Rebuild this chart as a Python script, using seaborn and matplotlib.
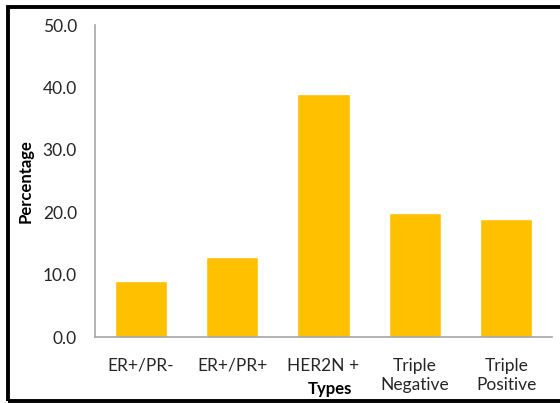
import matplotlib
matplotlib.use("Agg")
import matplotlib.pyplot as plt
from matplotlib.patches import Rectangle
import seaborn as sns
import pandas as pd

categories = ["ER+/PR-", "ER+/PR+", "HER2N +", "Triple\nNegative", "Triple\nPositive"]
percentages = [8.9, 12.8, 38.9, 19.8, 18.9]
y_ticks = [0, 10, 20, 30, 40, 50]
y_tick_labels = ["0.0", "10.0", "20.0", "30.0", "40.0", "50.0"]

sns.set_theme(style="white")
plt.rcParams["font.family"] = ["Lato", "DejaVu Sans"]

df = pd.DataFrame({"Types": categories, "Percentage": percentages})

fig = plt.figure(figsize=(5.6, 4.03), dpi=100)
ax = fig.add_axes([95 / 560, 1 - 337 / 403, 457 / 560, 312 / 403])

sns.barplot(data=df, x="Types", y="Percentage", color="#FFC000",
            saturation=1, width=0.57, ax=ax)

ax.set_ylim(0, 50)
ax.set_yticks(y_ticks)
ax.set_yticklabels(y_tick_labels)
ax.tick_params(axis="both", labelsize=12.5, colors="#262626", length=0)
ax.tick_params(axis="y", pad=13)
ax.tick_params(axis="x", pad=15)
for lbl in ax.get_xticklabels():
    lbl.set_linespacing(1.25)

for side in ["top", "right"]:
    ax.spines[side].set_visible(False)
for side in ["left", "bottom"]:
    ax.spines[side].set_color("#A6A6A6")
    ax.spines[side].set_linewidth(1.2)

ax.set_ylabel("Percentage", fontsize=12, fontweight="bold", color="black")
ax.yaxis.set_label_coords(-(95 - 34) / 457, 0.5)
ax.set_xlabel("Types", fontsize=12, fontweight="bold", color="black")
ax.xaxis.set_label_coords((330 - 95) / 457, -(389 - 337) / 312)
ax.xaxis.label.set_verticalalignment("center")

# Frame around the whole chart area
fig.patches.append(Rectangle((7.5 / 560, 2.5 / 403), 600 / 560, (398.5 - 2.5 - 2) / 403,
                             transform=fig.transFigure, fill=False,
                             edgecolor="black", linewidth=2.8, clip_on=False))

fig.savefig("out.png", dpi=100)
